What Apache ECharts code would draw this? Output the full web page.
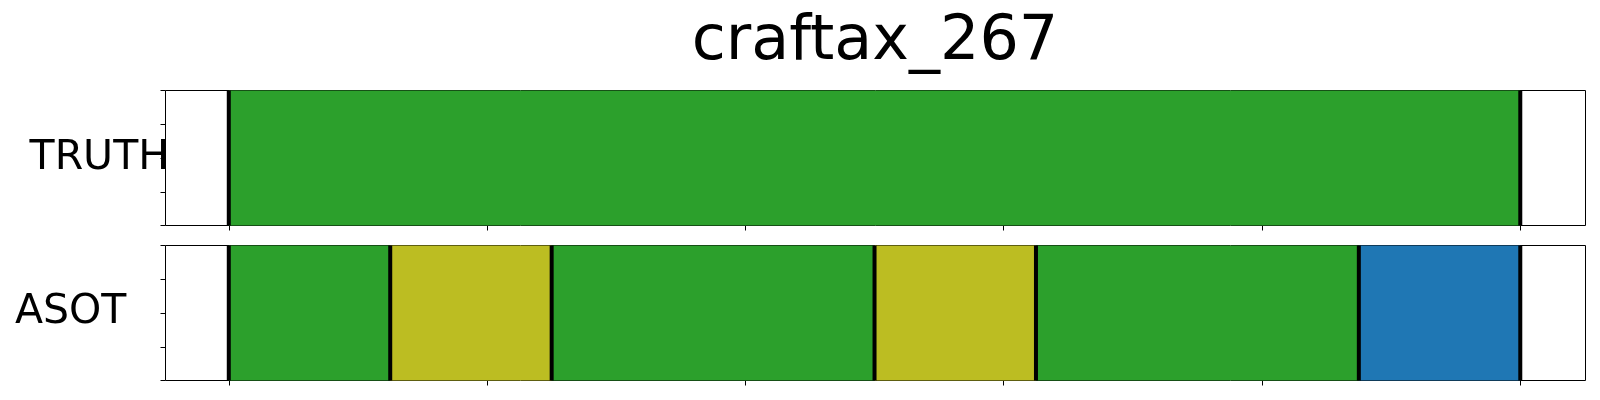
<!DOCTYPE html>
<html>
<head>
<meta charset="utf-8">
<script src="https://cdn.jsdelivr.net/npm/echarts@6/dist/echarts.min.js"></script>
<style>
html,body{margin:0;padding:0;background:#fff;}
#chart{width:1600px;height:400px;}
</style>
</head>
<body>
<div id="chart"></div>
<script>
const title = 'craftax_267';
const rowNames = ['TRUTH', 'ASOT'];
const xTicks = [0, 200, 400, 600, 800, 1000];
const xMin = -49, xMax = 1050.5;
const classColors = ['#2ca02c', '#bcbd22', '#1f77b4'];
const truthBounds = [0, 1000];
const truthClasses = [0];
const asotBounds = [0, 125, 250, 500, 625, 875, 1000];
const asotClasses = [0, 1, 0, 1, 0, 2];

function segs(bounds, classes) {
  return classes.map((c, i) => [bounds[i], bounds[i + 1], c]);
}
const FONT = 'DejaVu Sans';

const grids = [
  { left: 165.5, width: 1420, top: 90.5, height: 135, show: true, borderColor: '#000', borderWidth: 1, backgroundColor: '#fff', z: 0 },
  { left: 165.5, width: 1420, top: 245.5, height: 135, show: true, borderColor: '#000', borderWidth: 1, backgroundColor: '#fff', z: 0 }
];
const xAxes = [0, 1].map(i => ({
  type: 'value', gridIndex: i, min: xMin, max: xMax,
  axisLine: { show: false, onZero: false },
  splitLine: { show: false },
  axisLabel: { show: false },
  axisTick: { show: true, inside: false, length: 5, customValues: xTicks, lineStyle: { color: '#000', width: 1 } }
}));
const yAxes = [0, 1].map(i => ({
  type: 'value', gridIndex: i, min: 0, max: 1, interval: 0.25,
  axisLine: { show: false, onZero: false },
  splitLine: { show: false },
  axisLabel: { show: false },
  axisTick: { show: true, inside: false, length: 5, lineStyle: { color: '#000', width: 1 } }
}));

function segRender(params, api) {
  const p0 = api.coord([api.value(0), 1]);
  const p1 = api.coord([api.value(1), 0]);
  const c = classColors[api.value(2)];
  return { type: 'rect', shape: { x: p0[0], y: p0[1], width: p1[0] - p0[0], height: p1[1] - p0[1] }, style: { fill: c } };
}
function lineRender(params, api) {
  const p0 = api.coord([api.value(0), 1]);
  const p1 = api.coord([api.value(0), 0]);
  return { type: 'rect', shape: { x: p0[0] - 2, y: p0[1], width: 4, height: p1[1] - p0[1] }, style: { fill: '#000' } };
}

const series = [];
[[truthBounds, truthClasses], [asotBounds, asotClasses]].forEach(([b, c], i) => {
  series.push({ type: 'custom', xAxisIndex: i, yAxisIndex: i, renderItem: segRender, data: segs(b, c), encode: { x: [0, 1] }, z: 2, silent: true });
  series.push({ type: 'custom', xAxisIndex: i, yAxisIndex: i, renderItem: lineRender, data: b.map(v => [v]), encode: { x: 0 }, z: 3, silent: true });
});

const chart = echarts.init(document.getElementById('chart'), null, { renderer: 'canvas' });
chart.setOption({
  animation: false,
  backgroundColor: '#fff',
  title: { text: title, left: 870, textAlign: 'center', top: 7, textStyle: { fontFamily: FONT, fontSize: 62, fontWeight: 'normal', color: '#000' } },
  grid: grids,
  xAxis: xAxes,
  yAxis: yAxes,
  series: series,
  graphic: [
    { type: 'text', x: 169, y: 158, style: { text: rowNames[0], font: '41px "DejaVu Sans"', fill: '#000', textAlign: 'right', textVerticalAlign: 'middle' }, z: 10 },
    { type: 'text', x: 15, y: 312, style: { text: rowNames[1], font: '41px "DejaVu Sans"', fill: '#000', textAlign: 'left', textVerticalAlign: 'middle' }, z: 10 }
  ]
});
</script>
</body>
</html>
